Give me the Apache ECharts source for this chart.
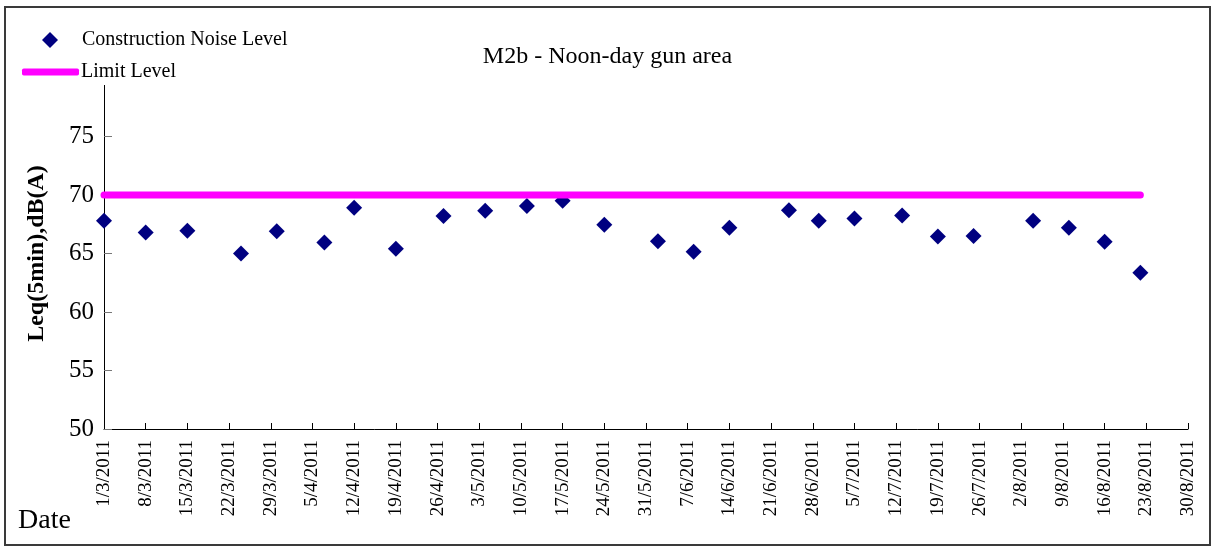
<!DOCTYPE html>
<html>
<head>
<meta charset="utf-8">
<script src="https://cdn.jsdelivr.net/npm/echarts@6/dist/echarts.min.js"></script>
<style>
html,body{margin:0;padding:0;background:#fff;}
#main{width:1215px;height:550px;}
</style>
</head>
<body>
<div id="main"></div>
<script>
// ---- data ----
const startDate = '2011-03-01';
const endDate = '2011-08-30';
const measureDates = ['2011-03-01','2011-03-08','2011-03-15','2011-03-24','2011-03-30','2011-04-07','2011-04-12','2011-04-19','2011-04-27','2011-05-04','2011-05-11','2011-05-17','2011-05-24','2011-06-02','2011-06-08','2011-06-14','2011-06-24','2011-06-29','2011-07-05','2011-07-13','2011-07-19','2011-07-25','2011-08-04','2011-08-10','2011-08-16','2011-08-22'];
const noiseLevels = [67.8,66.8,66.95,65.0,66.9,65.95,68.9,65.4,68.2,68.65,69.05,69.5,67.45,66.05,65.15,67.2,68.7,67.8,68.0,68.25,66.45,66.5,67.8,67.2,66.0,63.35];
const limitDates = ['2011-03-01','2011-08-22'];
const limitLevels = [70,70];
const yTicks = [50,55,60,65,70,75,80];

const DAY = 86400000;
function dayIdx(s){ const p=s.split('-').map(Number); return (Date.UTC(p[0],p[1]-1,p[2]) - Date.UTC(2011,2,1))/DAY; }
function fmt(d){ const t=new Date(Date.UTC(2011,2,1)+d*DAY); return t.getUTCDate()+'/'+(t.getUTCMonth()+1)+'/'+t.getUTCFullYear(); }

const serif = '"Liberation Serif","DejaVu Serif",serif';
const chart = echarts.init(document.getElementById('main'));
chart.setOption({
  animation:false,
  backgroundColor:'#fff',
  title:{text:'M2b - Noon-day gun area',left:'center',top:40,
    textStyle:{fontFamily:serif,fontSize:24,fontWeight:'normal',color:'#000'}},
  grid:{left:104,right:27,top:78,bottom:121,containLabel:false},
  legend:[
    {data:[{name:'Construction Noise Level',icon:'diamond'}],left:42,top:28,itemWidth:16,itemHeight:16,
     backgroundColor:'#fff',padding:[2,4,2,0],
     textStyle:{fontFamily:serif,fontSize:20,color:'#000',padding:[0,0,0,19]}},
    {data:[{name:'Limit Level',icon:'roundRect'}],left:22,top:60,itemWidth:57,itemHeight:7,
     backgroundColor:'#fff',padding:[2,6,3,0],
     textStyle:{fontFamily:serif,fontSize:20,color:'#000',padding:[5,0,0,-3]}}
  ],
  xAxis:{type:'value',min:dayIdx(startDate),max:dayIdx(endDate),interval:7,
    axisLine:{lineStyle:{color:'#000',width:1}},
    axisTick:{inside:true,length:6,lineStyle:{color:'#000'}},
    splitLine:{show:false},
    axisLabel:{rotate:90,margin:11,formatter:v=>fmt(v),fontFamily:serif,fontSize:19,color:'#000'}},
  yAxis:{type:'value',min:yTicks[0],max:yTicks[yTicks.length-1],interval:5,
    name:'Leq(5min),dB(A)',nameLocation:'middle',nameGap:55,nameRotate:90,
    nameTextStyle:{fontFamily:serif,fontSize:24,fontWeight:'bold',color:'#000'},
    axisLine:{show:true,lineStyle:{color:'#000',width:1}},
    axisTick:{show:true,inside:true,length:8,lineStyle:{color:'#777'}},
    splitLine:{show:false},
    axisLabel:{margin:10,fontFamily:serif,fontSize:25,color:'#000'}},
  graphic:[
    {type:'text',left:18,top:507,style:{text:'Date',font:'28px '+serif,fill:'#000'}},
    {type:'rect',shape:{x:5,y:7,width:1205,height:538},style:{fill:'none',stroke:'#3a3a3a',lineWidth:2},z:100}
  ],
  series:[
    {name:'Construction Noise Level',type:'scatter',symbol:'diamond',symbolSize:16,
     itemStyle:{color:'#000080',opacity:1},
     data:measureDates.map((d,i)=>[dayIdx(d),noiseLevels[i]])},
    {name:'Limit Level',type:'line',showSymbol:false,symbol:'none',
     itemStyle:{color:'#FF00FF'},
     lineStyle:{color:'#FF00FF',width:7,cap:'round'},
     data:limitDates.map((d,i)=>[dayIdx(d),limitLevels[i]])}
  ]
});
</script>
</body>
</html>
